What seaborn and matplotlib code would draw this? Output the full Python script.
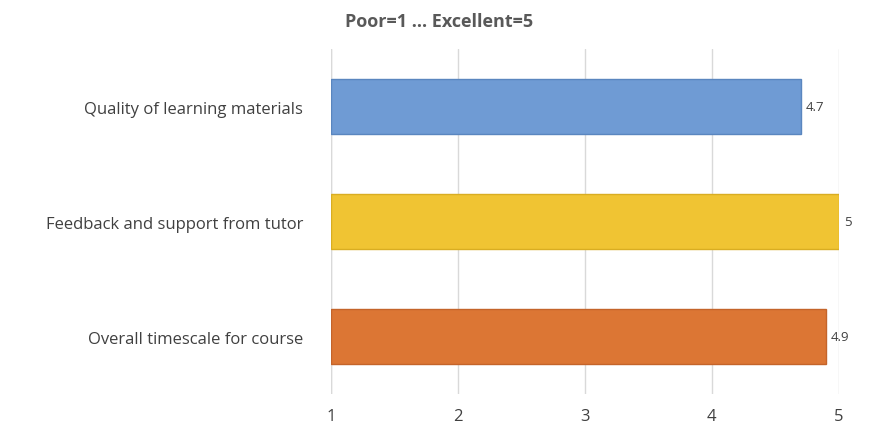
import matplotlib
matplotlib.use("Agg")
import matplotlib.pyplot as plt
import seaborn as sns
import pandas as pd

categories = ["Quality of learning materials", "Feedback and support from tutor", "Overall timescale for course"]
values = [4.7, 5, 4.9]
labels = ["4.7", "5", "4.9"]
colors = ["#6f9bd4", "#f0c433", "#dc7634"]
edges = ["#5a86bf", "#d9ad22", "#c4642a"]

sns.set_theme(style="white")
plt.rcParams['font.family'] = ['Open Sans', 'DejaVu Sans']

df = pd.DataFrame({"cat": categories, "val": values})
fig = plt.figure(figsize=(8.82, 4.31), dpi=100)
ax = fig.add_axes([0.375, 0.083, 0.576, 0.801])
sns.barplot(data=df, x="val", y="cat", hue="cat", palette=colors, legend=False,
            width=0.48, saturation=1, ax=ax, zorder=3)
for p, ec in zip(ax.patches, edges):
    p.set_edgecolor(ec)
    p.set_linewidth(1)
    w = p.get_width()
    p.set_x(1)
    p.set_width(w - 1)
ax.set_xlim(1, 5)
ax.set_xticks([1, 2, 3, 4, 5])
ax.xaxis.grid(True, color="#d9d9d9", linewidth=1, zorder=0)
for s in ax.spines.values():
    s.set_visible(False)
ax.axvline(1, color="#d9d9d9", linewidth=1, zorder=1)
ax.set_xlabel("")
ax.set_ylabel("")
ax.tick_params(axis="both", length=0, colors="#404040", labelsize=12)
ax.tick_params(axis="y", pad=20)
ax.tick_params(axis="x", pad=10)
for i, (v, l) in enumerate(zip(values, labels)):
    ax.text(v + 0.04, i, l, va="center", ha="left", fontsize=9.5, color="#404040")
fig.text(0.498, 0.95, "Poor=1 ... Excellent=5", ha="center", va="center",
         fontsize=13, fontweight="bold", color="#595959")
fig.savefig("out.png", dpi=100)
